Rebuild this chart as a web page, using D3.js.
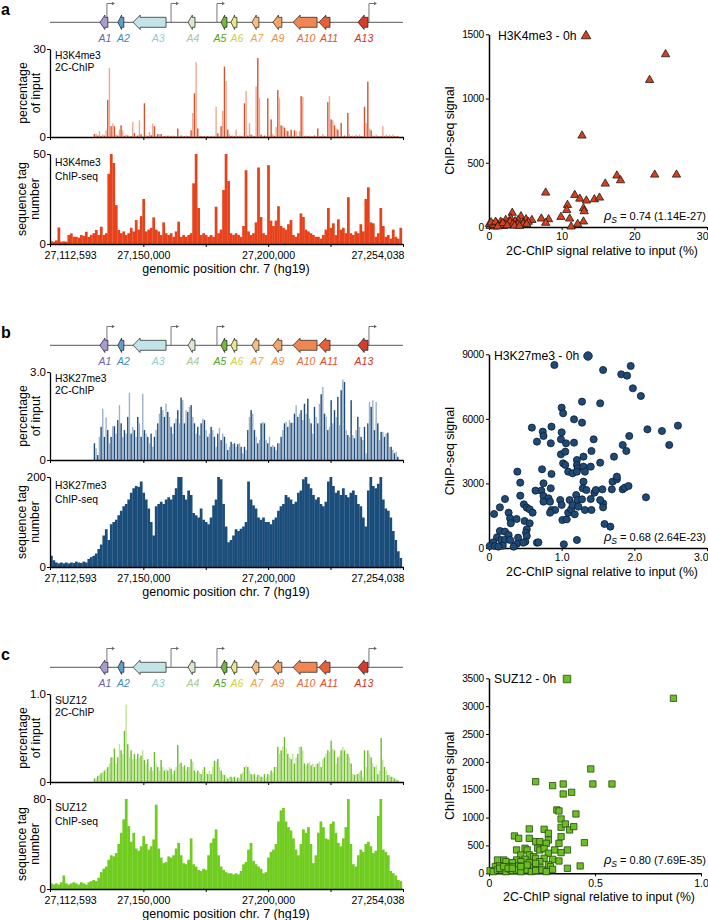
<!DOCTYPE html>
<html><head><meta charset="utf-8">
<script src="https://cdn.jsdelivr.net/npm/d3@7"></script>
<style>
body{margin:0;background:#fff}
svg{font-family:"Liberation Sans",Arial,Helvetica,sans-serif}
</style>
</head><body>
<svg id="fig" width="708" height="920"></svg>
<script>
// ---------------- DATA ----------------
const START = 27112593, END = 27254038;
const genomicTicks = [27112593, 27150000, 27175000, 27200000, 27225000, 27254038];
const genomicTickLabels = ["27,112,593", "27,150,000", "", "27,200,000", "", "27,254,038"];

const geneNames   = ["A1","A2","A3","A4","A5","A6","A7","A9","A10","A11","A13"];
const geneStartKb = [20.0, 27.2, 33.3, 55.3, 68.5, 72.5, 80.9, 89.3, 97.4, 107.8, 123.4];
const geneEndKb   = [23.2, 29.6, 46.5, 58.1, 70.9, 74.9, 83.7, 92.9, 107.0, 112.2, 127.4];
const geneLabelKb = [22.0, 29.4, 43.3, 57.3, 68.1, 74.9, 82.9, 91.3, 102.6, 111.8, 125.8];
const tssKb = [22.8, 48.5, 66.9, 127.8];

// tiling-array probes (2C-ChIP): first probe and spacing, in kb from START
const probeStartKb = 17.8, probeStepKb = 0.668;
// ChIP-seq bins: 1 kb from START
const seqBinKb = 1;

const h3k4_2c = [
1.0,1.2,0.5,2.0,0.4,0.8,0.5,2.3,12.6,23.5,
3.7,4.6,3.7,0.8,0.5,2.5,4.0,2.3,0.4,0.8,
0.5,0.3,0.3,5.2,1.3,0.3,0.5,5.7,0.9,0.3,
11.5,0.5,0.3,1.7,0.6,4.6,3.7,0.4,1.0,1.0,
1.0,0.3,0.3,0.5,0.4,0.5,0.3,0.5,0.3,0.3,
2.9,0.3,0.5,0.3,0.3,0.5,0.3,0.4,2.3,8.2,
14.9,25.5,2.9,0.3,0.3,0.4,0.3,0.3,0.3,0.2,
0.3,0.3,0.2,10.3,1.3,0.4,3.7,8.9,24,19.1,
2.5,1.0,0.4,0.5,0.3,2.5,0.3,0.5,0.3,0.3,
11.5,15.7,0.5,4.8,0.8,0.5,0.3,17.2,26.9,13.2,
0.8,0.3,0.5,0.3,13.2,0.5,6.0,1.0,0.4,3.4,
16,13.2,4.0,3.7,3.2,2.3,2.0,0.5,2.5,0.4,
2.3,2.0,0.3,2.0,14,13.7,0.3,0.5,0.3,0.5,
0.2,0.3,0.5,0.3,2.9,0.3,0.3,1.0,0.3,0.3,
11.9,14,6.0,5.7,4.0,2.9,2.5,0.3,4.8,0.3,
0.5,0.3,8.2,1.0,0.3,0.5,0.3,0.8,0.3,0.8,
0.3,0.3,10.3,4.8,18.9,2.9,2.3,0.5,0.3,0.8,
0.3,0.3,0.3,3.7,0.3,0.8,0.3,0.8,0.3,0.8,
0.3,0.3,0.3];

const h3k27_2c = [
0.57,0.40,0.17,0.79,1.13,1.75,0.79,1.45,1.02,0.57,
0.79,1.15,1.15,0.9,1.36,1.87,1.25,0.79,1.02,0.9,
1.47,2.29,0.9,1.13,1.02,0.79,1.47,1.25,0.79,2.26,
1.02,0.9,0.79,0.57,0.9,0.45,0.79,1.02,1.25,1.58,
1.81,1.70,1.47,1.92,1.64,1.47,1.13,0.9,1.25,1.41,
1.70,1.25,2.13,2.04,1.25,1.70,1.64,1.81,1.87,1.47,
1.25,0.9,1.13,0.85,1.25,1.41,1.36,1.02,0.79,0.9,
1.13,1.02,0.79,0.45,0.9,1.1,0.68,0.9,0.79,0.57,
0.34,0.45,0.62,0.54,0.57,0.45,0.54,0.57,0.45,0.23,
0.45,0.34,1.02,1.47,1.70,1.58,1.02,0.79,0.57,0.68,
1.25,1.3,1.25,0.68,0.57,0.79,0.45,0.51,0.45,0.34,
0.57,0.57,0.79,1.02,1.25,1.3,1.13,1.36,1.27,1.27,
1.58,1.87,1.47,1.58,1.70,1.36,1.92,1.58,2.09,1.41,
1.25,0.9,1.81,1.47,1.25,1.92,2.24,2.49,1.58,1.47,
1.02,1.13,2.04,1.25,1.70,1.47,2.15,1.19,2.38,2.74,
2.66,1.02,0.85,0.79,2.04,0.85,0.74,1.02,1.47,1.13,
0.79,0.68,1.13,0.23,1.25,1.98,1.81,2.04,1.02,1.98,
1.25,0.68,0.96,0.96,0.79,0.9,0.93,0.45,0.45,0.34,
0.23,0.28,0.11];

const suz12_2c = [
0.04,0.05,0.07,0.08,0.10,0.11,0.13,0.15,0.17,0.21,
0.28,0.28,0.38,0.21,0.28,0.43,0.36,0.32,0.58,0.88,
0.43,0.28,0.36,0.26,0.32,0.26,0.32,0.28,0.30,0.36,
0.25,0.21,0.26,0.13,0.17,0.13,0.34,0.21,0.17,0.13,
0.25,0.17,0.13,0.15,0.13,0.17,0.15,0.09,0.13,0.17,
0.42,0.21,0.22,0.17,0.19,0.13,0.17,0.17,0.26,0.23,
0.13,0.11,0.13,0.11,0.09,0.14,0.17,0.11,0.09,0.13,
0.09,0.17,0.24,0.23,0.26,0.17,0.13,0.09,0.08,0.06,
0.04,0.06,0.06,0.05,0.06,0.04,0.05,0.04,0.09,0.11,
0.17,0.19,0.17,0.13,0.09,0.08,0.09,0.06,0.08,0.08,
0.06,0.06,0.09,0.06,0.09,0.08,0.13,0.11,0.17,0.17,
0.40,0.32,0.36,0.40,0.51,0.38,0.32,0.28,0.26,0.32,
0.21,0.28,0.32,0.40,0.40,0.36,0.21,0.19,0.21,0.23,
0.19,0.21,0.17,0.21,0.21,0.23,0.17,0.26,0.28,0.32,
0.36,0.34,0.47,0.38,0.36,0.21,0.28,0.30,0.36,0.40,
0.36,0.32,0.32,0.28,0.21,0.09,0.08,0.09,0.09,0.11,
0.13,0.06,0.36,0.17,0.36,0.32,0.28,0.21,0.17,0.19,
0.09,0.13,0.50,0.25,0.17,0.13,0.08,0.08,0.06,0.06,
0.04,0.04,0.02];

const h3k4_seq = [
1.5,1.3,2,9.2,1.3,1.5,1.3,5,5.9,4,
4,3.5,5,4.5,6.8,4,5,6,7.8,5,
9.6,5,6,39,50,45,21.6,7.8,6,7,
5,6,9,7,13.3,8,15.5,25,7,8,
9,14.8,8,7,5,12,6,5,6,4,
7,12.4,4,5,4,5,6,33.7,50,20,
5,6,5,4,5,4,20.7,6,8,30,
50,35,6,5,6,5,4,10,41,7,
5,6,12,42.5,15,6,5,43.8,13,10,
13,21,10,9,8,11,13.3,5,4,6,
17,15,8,7,6,5,4,4,3,5,
8,20,9,11.5,5,13.7,8,9,6,26,
6,5,7,6,11,7,25,31.5,12,11.5,
4,6,20,10,4,5,3,8,4,3,
9];

const h3k27_seq = [
25,15,10,8,10,8,10,8,10,9,
12,10,9,12,10,18,22,25,30,40,
50,70,84,60,95,100,105,115,125,135,
140,150,165,175,180,178,190,165,150,130,
100,70,135,140,145,140,150,155,150,160,
175,200,200,160,150,170,160,120,115,110,
130,105,100,95,110,137,150,200,195,140,
90,55,60,70,84,80,85,90,100,190,
150,137,130,110,105,110,100,100,95,105,
110,125,135,140,160,155,150,140,145,165,
170,195,200,185,175,160,150,155,140,135,
145,190,200,180,165,170,160,175,160,155,
165,170,160,140,135,110,90,170,200,180,
175,185,200,150,130,125,110,80,60,35,
20];

const suz12_seq = [
5,4,5,4,6,12,5,4,5,6,
5,4,6,5,4,6,7,8,7,10,
15,18,20,26,30,29,32,40,50,62,
80,56,42,50,36,34,38,47,40,35,
38,44,75,36,28,23,24,29,28,30,
36,41,30,23,22,26,45,22,20,17,
16,18,17,30,41,45,53,30,20,17,
15,14,14,13,14,13,16,22,24,35,
41,25,22,20,18,14,15,28,33,35,
40,60,70,72,60,55,52,45,35,30,
40,53,50,55,40,23,30,50,60,55,
45,44,58,60,50,41,38,45,55,80,
40,22,20,30,35,33,40,42,38,32,
34,65,80,35,33,30,16,14,12,8,
7];

// scatter plots: [2C-ChIP % of input, ChIP-seq signal]
const scatterH3K4 = [
[24.3,1344],[22.1,1144],[12.8,711],[17.6,400],[18.1,363],[22.8,407],[25.8,407],[16.0,337],
[7.8,267],[11.8,249],[12.5,220],[13.4,205],[14.5,215],[15.2,228],[10.8,171],[10.7,132],
[13.0,145],[13.1,122],[9.9,78],[11.1,65],[13.0,42],[7.2,65],[8.2,60],[7.8,32],[12.2,23],
[11.3,3],[3.2,110],[4.4,83],[4.0,54],[5.1,60],[5.9,54],[3.0,67],[2.3,54],[1.6,41],[3.6,45],
[4.7,34],[5.4,40],[1.05,28],[0.37,21],[0.6,8],[1.3,8],[2.2,21],[2.7,16],[3.8,21],[0.14,8],
[0.05,23],[0.8,3],[2.0,8],[2.9,41],[3.3,23],[4.0,23],[4.7,25],[5.2,23],[1.7,16],[0.6,16],
[0.3,35],[0.9,40],[1.9,30],[2.5,12],[3.5,10],[4.2,8],[1.2,4]];

const scatterH3K27 = [
[0.90,8504],[1.57,8272],[1.95,8458],[1.82,8070],[1.90,8008],[1.98,7420],[2.09,7063],[1.28,6800],
[1.53,6723],[1.00,6521],[1.02,6258],[1.17,5979],[1.28,5824],[0.59,5592],[0.74,5406],[0.75,5205],
[0.86,5638],[1.00,5375],[0.66,4941],[0.85,4864],[0.99,5050],[1.06,4864],[1.17,4895],[1.44,5050],
[1.93,5205],[1.84,4786],[1.89,4508],[2.18,5514],[2.38,5437],[2.60,5685],[2.48,4786],[0.99,4353],
[1.05,4477],[1.30,4244],[1.41,4508],[1.72,4244],[1.21,4089],[1.02,3934],[1.05,3857],[1.21,3857],
[1.22,3702],[1.30,3780],[1.40,3780],[1.53,3965],[1.09,3547],[1.15,3470],[1.21,3547],[1.32,3547],
[0.73,3656],[0.39,3547],[0.43,3036],[0.86,3439],[0.75,3005],[0.72,2664],[0.75,2416],[0.85,2773],
[0.82,2308],[0.75,2153],[0.84,2153],[0.64,2664],[0.43,2432],[0.48,2029],[0.52,1874],[0.56,1797],
[0.60,1642],[0.22,2277],[0.15,1890],[0.07,1580],[0.27,1642],[0.29,1379],[0.30,1146],[0.38,1348],
[0.49,1255],[0.56,1146],[0.52,868],[0.51,713],[0.52,558],[0.15,790],[0.22,759],[0.27,604],
[0.11,496],[0.17,372],[0.22,372],[0.29,372],[0.40,480],[0.50,294],[0.47,248],[0.38,186],
[0.34,62],[0.06,263],[0.01,93],[0.08,93],[0.19,108],[0.13,62],[0.66,248],[0.68,263],
[1.03,170],[1.21,372],[0.86,1766],[0.91,1766],[0.84,1642],[0.98,2230],[1.00,1998],[1.01,1301],
[1.07,1332],[1.09,1642],[1.11,2230],[1.13,1797],[1.15,1998],[1.18,1565],[1.20,2463],[1.22,2230],
[1.23,1921],[1.32,1766],[1.41,1766],[1.28,2261],[1.30,3082],[1.29,2773],[1.34,2695],[1.40,2277],
[1.45,2571],[1.47,2695],[1.56,2726],[1.57,2076],[1.57,1890],[1.53,2230],[1.69,2726],[1.70,3082],
[1.76,3191],[1.76,3315],[1.84,2726],[1.87,2804],[1.92,2881],[1.59,1115],[1.67,991],[2.16,2355]];

const scatterSUZ12 = [
[0.87,3141],[0.48,1873],[0.22,1645],[0.30,1574],[0.35,1603],[0.35,1424],[0.39,1454],[0.49,1603],
[0.58,1603],[0.32,1137],[0.33,1119],[0.34,975],[0.41,1065],[0.19,796],[0.34,826],[0.36,885],
[0.38,778],[0.40,838],[0.26,790],[0.28,718],[0.28,598],[0.12,670],[0.14,628],[0.19,628],
[0.22,568],[0.24,568],[0.27,538],[0.33,538],[0.34,658],[0.45,550],[0.13,419],[0.17,449],
[0.18,419],[0.23,449],[0.24,419],[0.26,443],[0.28,359],[0.31,419],[0.37,419],[0.34,371],
[0.15,329],[0.19,329],[0.21,299],[0.17,251],[0.13,239],[0.22,269],[0.26,269],[0.30,251],
[0.33,221],[0.04,239],[0.07,239],[0.08,209],[0.11,191],[0.15,209],[0.19,191],[0.24,209],
[0.28,150],[0.29,120],[0.30,72],[0.37,90],[0.43,132],[0.03,120],[0.05,132],[0.09,120],
[0.11,120],[0.14,132],[0.17,120],[0.19,108],[0.22,120],[0.24,108],[0.005,48],[0.02,30],
[0.04,60],[0.06,60],[0.08,30],[0.10,72],[0.11,48],[0.13,60],[0.15,30],[0.18,60],
[0.20,30],[0.22,48],[0.25,60],[0.27,30],[0.05,90],[0.07,120],[0.09,90],[0.11,90],
[0.18,150],[0.22,180],[0.15,120]];

// ---------------- STYLE ----------------
const geneFill  = ["#a99bd2","#5c9dc9","#c2e4e7","#d8e9cf","#74b941","#e6e98c","#f6bf80","#f4a66a","#f08652","#e76037","#d93b2b"];
const geneLabelColor = ["#6f60b2","#3e8dc1","#8fcdd6","#a7c898","#4fa322","#cfcf3e","#f0a043","#ec8b3d","#e8692f","#e04b25","#d43023"];

const panelStyle = [
 {dy:0,   letter:"a", mark:"H3K4me3",  twoC:h3k4_2c,  seq:h3k4_seq,  twoCMax:30,  twoCTop:"30",  seqMax:50,  seqTop:"50",
  dark:"#d4532e", light:"#f3a78f", seqColor:"#e6431c",
  sc:scatterH3K4, sx:[0,30], sxTicks:[0,10,20,30], sxFmt:d=>String(d), sy:[0,1500], syTicks:[0,500,1000,1500],
  sxR:[489,707], syR:[227,34.3], sym:d3.symbolTriangle, symSize:30, legSize:40, mFill:"#d6401c", mStroke:"#1a1a1a",
  legText:"H3K4me3 - 0h", legX:498, legY:36, legMX:586, rho:"0.74 (1.14E-27)", rhoY:220, lastEnd:true},
 {dy:323, letter:"b", mark:"H3K27me3", twoC:h3k27_2c, seq:h3k27_seq, twoCMax:3.0, twoCTop:"3.0", seqMax:200, seqTop:"200",
  dark:"#1d4a77", light:"#9db3cb", seqColor:"#1b4d7b",
  sc:scatterH3K27, sx:[0,3], sxTicks:[0,1,2,3], sxFmt:d=>d===0?"0":d.toFixed(1), sy:[0,9000], syTicks:[0,3000,6000,9000],
  sxR:[489,707], syR:[548,354.3], sym:d3.symbolCircle, symSize:40, legSize:58, mFill:"#1e4a75", mStroke:"#0b1e33",
  legText:"H3K27me3 - 0h", legX:494, legY:356, legMX:588, rho:"0.68 (2.64E-23)", rhoY:541, lastEnd:true},
 {dy:645, letter:"c", mark:"SUZ12",    twoC:suz12_2c, seq:suz12_seq, twoCMax:1.0, twoCTop:"1.0", seqMax:80, seqTop:"80",
  dark:"#6abd2a", light:"#bfe394", seqColor:"#70cc1f",
  sc:scatterSUZ12, sx:[0,1], sxTicks:[0,0.5,1], sxFmt:d=>d===0?"0":d.toFixed(1), sy:[0,3500], syTicks:[0,500,1000,1500,2000,2500,3000,3500],
  sxR:[489,701], syR:[873.3,678.3], sym:d3.symbolSquare, symSize:40, legSize:56, mFill:"#6cbf22", mStroke:"#264a10",
  legText:"SUZ12 - 0h", legX:494, legY:679, legMX:567, rho:"0.80 (7.69E-35)", rhoY:864, lastEnd:false}
];

// ---------------- DRAW ----------------
const svg = d3.select("#fig");
const xg = d3.scaleLinear().domain([START, END]).range([50, 403]);
const kb = k => START + k * 1000;

function styleAxis(g, w) {
  g.selectAll("path.domain").attr("stroke", "#000").attr("stroke-width", w || 1.3);
  g.selectAll(".tick line").attr("stroke", "#000").attr("stroke-width", 1);
  g.selectAll(".tick text").attr("fill", "#000").attr("font-family", '"Liberation Sans",Arial,sans-serif');
}

panelStyle.forEach(p => {
  const g = svg.append("g");
  const dy = p.dy;

  // panel letter
  g.append("text").attr("x", 1).attr("y", 14.5 + dy).attr("font-size", 16).attr("font-weight", "bold").text(p.letter);

  // ---- gene track ----
  const ty = 22.3 + dy;
  g.append("line").attr("x1", xg(START)).attr("x2", xg(END)).attr("y1", ty).attr("y2", ty)
    .attr("stroke", "#555").attr("stroke-width", 1);
  tssKb.forEach(k => {
    const tx = xg(kb(k));
    g.append("path").attr("d", `M${tx},${ty} V${3.5 + dy} H${tx + 6}`).attr("fill", "none").attr("stroke", "#666").attr("stroke-width", 0.9);
    g.append("path").attr("d", `M${tx + 8},${3.5 + dy} L${tx + 5},${1.8 + dy} L${tx + 5},${5.2 + dy} Z`).attr("fill", "#666");
  });
  geneNames.forEach((n, i) => {
    const x1 = xg(kb(geneStartKb[i])), x2 = xg(kb(geneEndKb[i]));
    const w = x2 - x1;
    const h = Math.min(7, w * 0.62);
    const hh = 7.2, bh = 5;
    const d = `M${x1},${ty} L${x1 + h},${ty - hh} L${x1 + h},${ty - bh} L${x2},${ty - bh} L${x2},${ty + bh} L${x1 + h},${ty + bh} L${x1 + h},${ty + hh} Z`;
    g.append("path").attr("d", d).attr("fill", geneFill[i]).attr("stroke", "#1a1a1a").attr("stroke-width", 0.7);
    g.append("text").attr("x", xg(kb(geneLabelKb[i]))).attr("y", 41.5 + dy).attr("text-anchor", "middle")
      .attr("font-size", 10.5).attr("font-style", "italic").attr("fill", geneLabelColor[i]).text(n);
  });

  // ---- 2C-ChIP track ----
  const yT = d3.scaleLinear().domain([0, p.twoCMax]).range([137 + dy, 49 + dy]);
  p.twoC.forEach((v, i) => {
    const cx = xg(kb(probeStartKb + i * probeStepKb));
    const vv = Math.min(v, p.twoCMax);
    g.append("rect").attr("x", cx - 0.7).attr("width", 1.4)
      .attr("y", yT(vv)).attr("height", yT(0) - yT(vv))
      .attr("fill", i % 2 === 0 ? p.dark : p.light);
  });
  const axT = g.append("g").attr("transform", `translate(0,${yT(0)})`)
    .call(d3.axisBottom(xg).tickValues(genomicTicks).tickSize(3).tickSizeOuter(0).tickFormat(""));
  styleAxis(axT, 1.5);
  const ayT = g.append("g").attr("transform", `translate(50,0)`)
    .call(d3.axisLeft(yT).tickValues([0, p.twoCMax]).tickSize(3).tickSizeOuter(0).tickFormat(d => d === 0 ? "0" : p.twoCTop));
  styleAxis(ayT, 1.3);
  ayT.selectAll(".tick text").attr("font-size", 11.5).attr("x", -4);

  g.append("text").attr("x", 55).attr("y", 59 + dy).attr("font-size", 10.3).text(p.mark);
  g.append("text").attr("x", 55).attr("y", 71 + dy).attr("font-size", 10.3).text("2C-ChIP");

  const lblT = g.append("text").attr("transform", `translate(27,${93 + dy}) rotate(-90)`).attr("text-anchor", "middle").attr("font-size", 12.3);
  lblT.append("tspan").attr("x", 0).attr("y", 0).text("percentage");
  lblT.append("tspan").attr("x", 0).attr("y", 13).text("of input");

  // ---- ChIP-seq track: one bar per 1-kb bin ----
  const yS = d3.scaleLinear().domain([0, p.seqMax]).range([244 + dy, 154 + dy]);
  p.seq.forEach((v, i) => {
    const x1 = xg(kb(i * seqBinKb)), x2 = Math.min(xg(kb((i + 1) * seqBinKb)), xg(END));
    const vv = Math.min(v, p.seqMax);
    g.append("rect").attr("x", x1).attr("width", x2 - x1 + 0.25)
      .attr("y", yS(vv)).attr("height", yS(0) - yS(vv)).attr("fill", p.seqColor);
  });

  const axS = g.append("g").attr("transform", `translate(0,${yS(0)})`)
    .call(d3.axisBottom(xg).tickValues(genomicTicks).tickSize(3).tickSizeOuter(0).tickFormat((d, i) => genomicTickLabels[i]));
  styleAxis(axS, 1.5);
  axS.selectAll(".tick text").attr("font-size", 10.6).attr("y", 7)
    .attr("text-anchor", (d, i) => i === 0 ? "start" : (i === genomicTicks.length - 1 ? "end" : "middle"))
    .attr("dx", (d, i) => i === 0 ? -6 : (i === genomicTicks.length - 1 ? 1 : 0));
  const ayS = g.append("g").attr("transform", `translate(50,0)`)
    .call(d3.axisLeft(yS).tickValues([0, p.seqMax]).tickSize(3).tickSizeOuter(0).tickFormat(d => d === 0 ? "0" : p.seqTop));
  styleAxis(ayS, 1.3);
  ayS.selectAll(".tick text").attr("font-size", 11.5).attr("x", -4);

  g.append("text").attr("x", 55).attr("y", 166 + dy).attr("font-size", 10.3).text(p.mark);
  g.append("text").attr("x", 55).attr("y", 180 + dy).attr("font-size", 10.3).text("ChIP-seq");

  const lblS = g.append("text").attr("transform", `translate(26,${199 + dy}) rotate(-90)`).attr("text-anchor", "middle").attr("font-size", 12.3);
  lblS.append("tspan").attr("x", 0).attr("y", 0).text("sequence tag");
  lblS.append("tspan").attr("x", 0).attr("y", 13).text("number");

  g.append("text").attr("x", 226).attr("y", 273 + dy).attr("text-anchor", "middle").attr("font-size", 12.5)
    .text("genomic position chr. 7 (hg19)");

  // ---- scatter ----
  const sx = d3.scaleLinear().domain(p.sx).range(p.sxR);
  const sy = d3.scaleLinear().domain(p.sy).range(p.syR);
  const axX = g.append("g").attr("transform", `translate(0,${p.syR[0]})`)
    .call(d3.axisBottom(sx).tickValues(p.sxTicks).tickSize(3).tickSizeOuter(0).tickFormat(p.sxFmt));
  styleAxis(axX, 1.5);
  axX.selectAll(".tick text").attr("font-size", 10.5).attr("y", 6);
  if (p.lastEnd) {
    axX.selectAll(".tick text").filter((d, i) => i === p.sxTicks.length - 1).attr("text-anchor", "end").attr("dx", 1);
  }
  const axY = g.append("g").attr("transform", `translate(${p.sxR[0]},0)`)
    .call(d3.axisLeft(sy).tickValues(p.syTicks).tickSize(3).tickSizeOuter(0).tickFormat(d => String(d)));
  styleAxis(axY, 1.5);
  axY.selectAll(".tick text").attr("font-size", 10.2).attr("x", -5).attr("letter-spacing", -0.2);

  const sym = d3.symbol().type(p.sym).size(p.symSize);
  g.append("g").selectAll("path").data(p.sc).join("path")
    .attr("transform", d => `translate(${sx(d[0])},${sy(d[1])})`)
    .attr("d", sym).attr("fill", p.mFill).attr("stroke", p.mStroke).attr("stroke-width", 0.8);

  g.append("text").attr("x", p.legX).attr("y", p.legY + 4.3).attr("font-size", 12.2).text(p.legText);
  g.append("path").attr("transform", `translate(${p.legMX},${p.legY})`)
    .attr("d", d3.symbol().type(p.sym).size(p.legSize)).attr("fill", p.mFill).attr("stroke", p.mStroke).attr("stroke-width", 0.8);

  const rt = g.append("text").attr("x", 706).attr("y", p.rhoY).attr("text-anchor", "end").attr("font-size", 11);
  rt.append("tspan").attr("font-style", "italic").attr("font-size", 13).text("ρ");
  rt.append("tspan").attr("font-style", "italic").attr("font-size", 8.5).attr("dy", 2.5).text("S");
  rt.append("tspan").attr("dy", -2.5).text(" = " + p.rho);

  const yMid = (p.syR[0] + p.syR[1]) / 2;
  g.append("text").attr("transform", `translate(454,${yMid}) rotate(-90)`).attr("text-anchor", "middle")
    .attr("font-size", 12.5).text("ChIP-seq signal");
  g.append("text").attr("x", (p.sxR[0] + p.sxR[1]) / 2 + 4).attr("y", p.syR[0] + 28).attr("text-anchor", "middle")
    .attr("font-size", 12.3).text("2C-ChIP signal relative to input (%)");
});
</script>
</body></html>
